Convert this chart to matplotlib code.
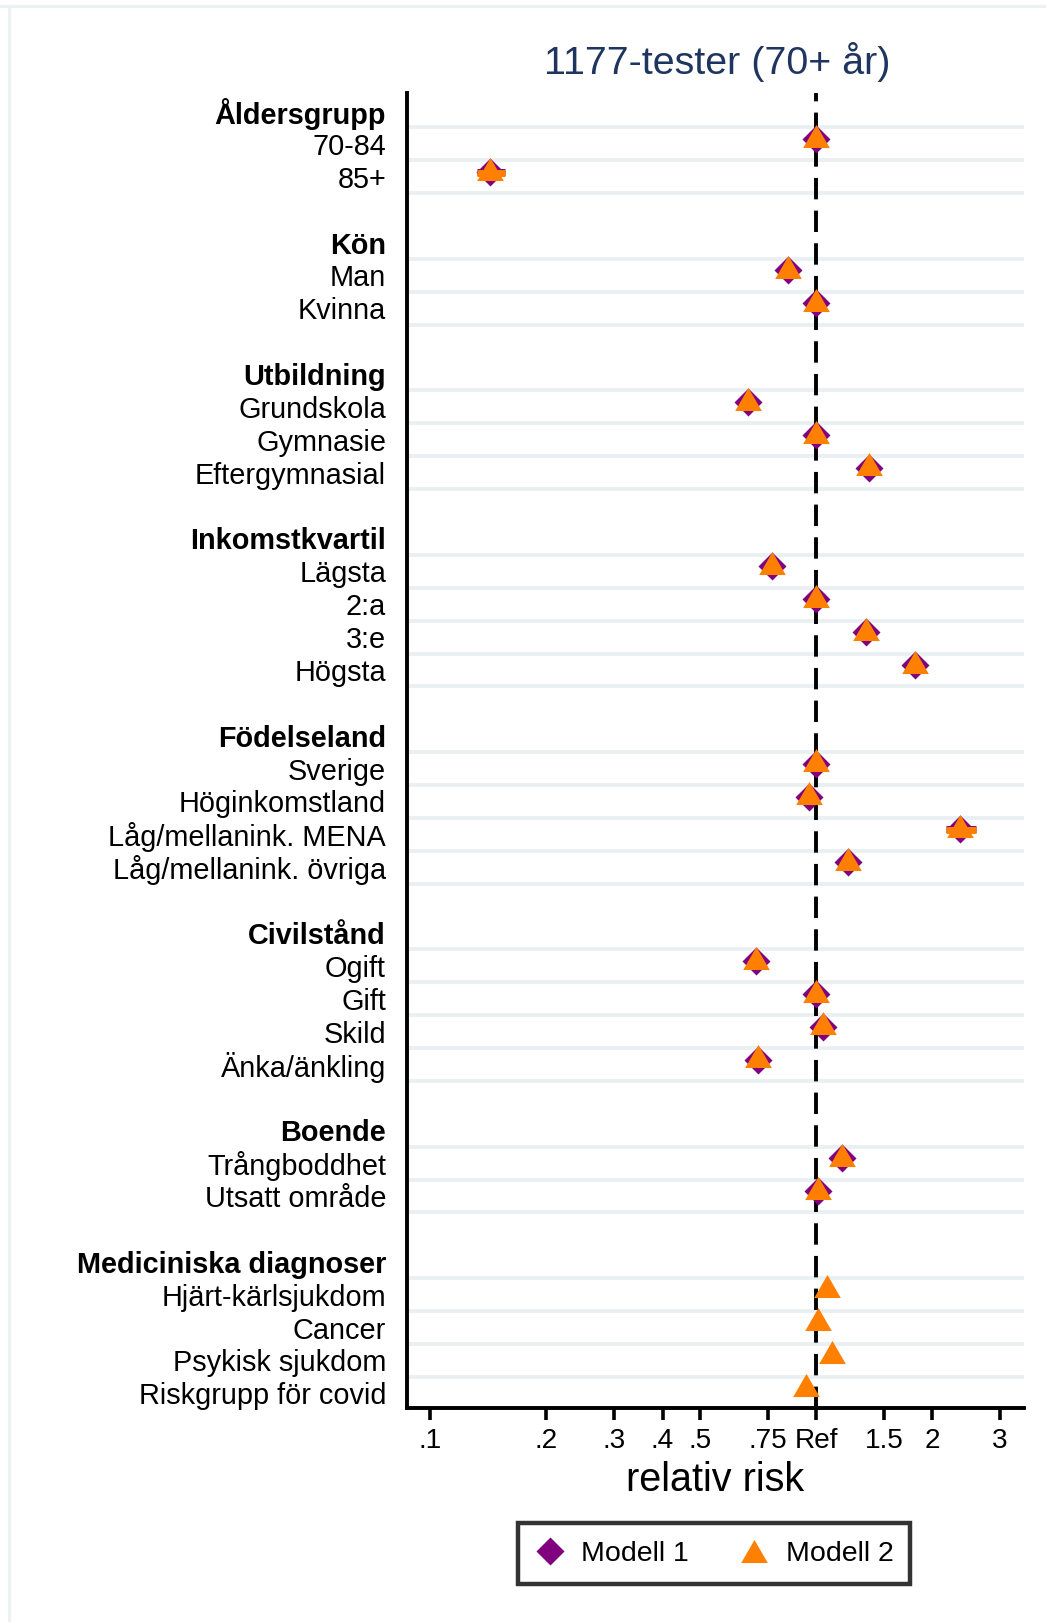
import numpy as np
import matplotlib
matplotlib.use("Agg")
import matplotlib.pyplot as plt
from matplotlib.lines import Line2D

plt.rcParams['font.family'] = ['Liberation Sans', 'DejaVu Sans']

# --- data (relativ risk, 1 = Ref) ---
groups = ["Åldersgrupp", "Kön", "Utbildning", "Inkomstkvartil",
          "Födelseland", "Civilstånd", "Boende", "Mediciniska diagnoser"]
items = [
    ["70-84", "85+"],
    ["Man", "Kvinna"],
    ["Grundskola", "Gymnasie", "Eftergymnasial"],
    ["Lägsta", "2:a", "3:e", "Högsta"],
    ["Sverige", "Höginkomstland", "Låg/mellanink. MENA", "Låg/mellanink. övriga"],
    ["Ogift", "Gift", "Skild", "Änka/änkling"],
    ["Trångboddhet", "Utsatt område"],
    ["Hjärt-kärlsjukdom", "Cancer", "Psykisk sjukdom", "Riskgrupp för covid"],
]
nan = np.nan
modell1 = [
    [1.0, 0.143],
    [0.846, 1.0],
    [0.665, 1.0, 1.37],
    [0.767, 1.0, 1.35, 1.81],
    [1.0, 0.958, 2.36, 1.21],
    [0.699, 1.0, 1.04, 0.708],
    [1.17, 1.01],
    [nan, nan, nan, nan],
]
modell2 = [
    [1.0, 0.143],
    [0.846, 1.0],
    [0.665, 1.0, 1.37],
    [0.767, 1.0, 1.35, 1.81],
    [1.0, 0.958, 2.36, 1.21],
    [0.699, 1.0, 1.04, 0.708],
    [1.17, 1.01],
    [1.07, 1.01, 1.10, 0.94],
]
# visible confidence intervals (others are hidden behind the markers)
ci_lo = [
    [nan, 0.132], [nan, nan], [nan, nan, nan], [nan, nan, nan, nan],
    [nan, nan, 2.17, nan], [nan, nan, nan, nan], [nan, nan], [nan, nan, nan, nan],
]
ci_hi = [
    [nan, 0.156], [nan, nan], [nan, nan, nan], [nan, nan, nan, nan],
    [nan, nan, 2.59, nan], [nan, nan, nan, nan], [nan, nan], [nan, nan, nan, nan],
]

xticks = [0.1, 0.2, 0.3, 0.4, 0.5, 0.75, 1, 1.5, 2, 3]
xticklabels = [".1", ".2", ".3", ".4", ".5", ".75", "Ref", "1.5", "2", "3"]

purple = '#800080'
orange = '#ff7f00'
gridc = '#eaf0f2'
tri = [(-1, -0.866), (1, -0.866), (0, 0.866)]

# row positions
ylabels, ypos, bold, gridrows = [], [], [], []
m1, m2, lo, hi, itemrows = [], [], [], [], []
r = 0
for g, its, a, b, l, h in zip(groups, items, modell1, modell2, ci_lo, ci_hi):
    ylabels.append(g); ypos.append(r); bold.append(True); gridrows.append(r + 0.5)
    for k, it in enumerate(its):
        rr = r + 1 + k
        ylabels.append(it); ypos.append(rr); bold.append(False); gridrows.append(rr + 0.5)
        itemrows.append(rr)
        m1.append(a[k]); m2.append(b[k]); lo.append(l[k]); hi.append(h[k])
    r += len(its) + 2
itemrows = np.array(itemrows, float)
m1 = np.array(m1); m2 = np.array(m2); lo = np.array(lo); hi = np.array(hi)

fig = plt.figure(figsize=(10.46, 16.22), dpi=100)
ax = fig.add_axes([0.389, 0.1319, 0.979 - 0.389, 0.9427 - 0.1319])

for g in gridrows:
    ax.axhline(g, color=gridc, lw=2.8, zorder=1)

ax.axvline(1, color='black', lw=2.8, dashes=(5.5, 2.9), zorder=2)

d_off = 0.15
t_off = 0.25
ok = ~np.isnan(lo)
ax.hlines(itemrows[ok] - d_off, lo[ok], hi[ok], color=purple, lw=5, zorder=3)
ax.plot(m1, itemrows - d_off, ls='none', marker='D', ms=14.5,
        color=purple, mec='none', zorder=4)
ax.hlines(itemrows[ok] - d_off + 0.02, lo[ok], hi[ok], color=orange, lw=5, zorder=5)
ax.plot(m2, itemrows - t_off, ls='none', marker=tri, ms=19.2,
        color=orange, mec='none', zorder=6)

ax.set_xscale('log')
ax.set_xlim(0.087, 3.46)
ax.set_ylim(39.45, -0.55)
ax.set_xticks(xticks)
ax.set_xticklabels(xticklabels)
ax.xaxis.set_minor_locator(matplotlib.ticker.NullLocator())
ax.tick_params(axis='x', length=8.6, width=2.6, labelsize=20.2, pad=6)
ax.set_yticks(ypos)
ax.set_yticklabels(ylabels)
ax.tick_params(axis='y', length=0, labelsize=20.8, pad=15)
for t, b in zip(ax.get_yticklabels(), bold):
    if b:
        t.set_fontweight('bold')

for s in ['top', 'right']:
    ax.spines[s].set_visible(False)
for s in ['left', 'bottom']:
    ax.spines[s].set_linewidth(2.8)

ax.set_xlabel("relativ risk", fontsize=28.5, labelpad=5)
fig.text(0.6855, 0.9618, "1177-tester (70+ år)", fontsize=28.4, color='#1e3560',
         ha='center', va='center')

handles = [Line2D([], [], ls='none', marker='D', ms=14.5, color=purple, mec='none'),
           Line2D([], [], ls='none', marker=tri, ms=19.2, color=orange, mec='none')]
leg = fig.legend(handles, ["Modell 1", "Modell 2"], loc='center',
                 bbox_to_anchor=(0.683, 0.0422), ncol=2, fontsize=20.5,
                 frameon=True, fancybox=False, edgecolor='black',
                 handlelength=1.0, handletextpad=0.6, columnspacing=1.8,
                 borderpad=0.6, borderaxespad=0)
leg.get_frame().set_linewidth(3.2)

# thin light frame lines (top and left)
fig.add_artist(Line2D([0, 1], [1 - 5.5 / 1622] * 2, color='#eaf2f3', lw=2.2,
                      transform=fig.transFigure))
fig.add_artist(Line2D([8.5 / 1046] * 2, [0, 1 - 5.5 / 1622], color='#eaf2f3', lw=2.2,
                      transform=fig.transFigure))

fig.savefig("out.png", dpi=100)
